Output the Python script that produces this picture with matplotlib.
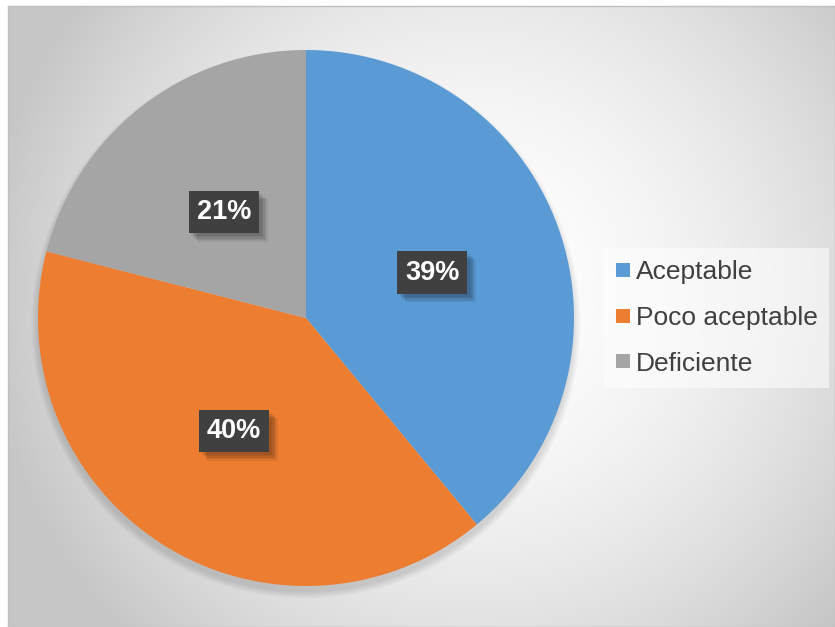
import numpy as np
import matplotlib
matplotlib.use("Agg")
import matplotlib.pyplot as plt
from matplotlib.lines import Line2D
from matplotlib.patches import Circle
import matplotlib.patheffects as pe

categories = ["Aceptable", "Poco aceptable", "Deficiente"]
shares = [39, 40, 21]
colors = ["#5B9BD5", "#ED7D31", "#A5A5A5"]

W, H = 835, 627
plt.rcParams["font.family"] = ["Liberation Sans", "DejaVu Sans"]
fig = plt.figure(figsize=(W / 100, H / 100), dpi=100)
fig.patch.set_facecolor("white")

# chart area with a soft radial grey gradient
x0, y0 = 8, 6
bg = fig.add_axes([x0 / W, 0, (W - x0) / W, (H - y0) / H])
gx, gy = np.meshgrid(np.arange(x0, W), np.arange(y0, H))
d = np.hypot(gx - 470, gy - 290)
v = np.clip(1 - 0.2 * (d / 460) ** 1.8, 0.78, 1)
bg.imshow(np.dstack([v, v, v]), aspect="auto", interpolation="bilinear")
bg.set_xticks([]); bg.set_yticks([])
for s in bg.spines.values():
    s.set_color("#bfbfbf"); s.set_linewidth(1)

# pie, with a faint shadow falling below it
cx, cy, r = 306, 318, 268
ax = fig.add_axes([(cx - r) / W, (H - cy - r) / H, 2 * r / W, 2 * r / H])
ax.set_facecolor("none")
for i in range(8):
    ax.add_patch(Circle((0, -0.022), 1 + 0.0035 * i, color="black", alpha=0.014,
                        lw=0, zorder=0, clip_on=False))
wedges, _, autotexts = ax.pie(
    shares, colors=colors, startangle=90, counterclock=False,
    autopct=lambda p: f"{p:.0f}%", pctdistance=0.5,
    wedgeprops=dict(linewidth=0),
    textprops=dict(color="white", fontsize=19.5, fontweight="bold"))
soft_shadow = [pe.SimplePatchShadow(offset=(k, -k), shadow_rgbFace="black", alpha=0.07)
               for k in (6, 5, 4, 3, 2)]
for t in autotexts:
    t.set_zorder(5)
    t.set_bbox(dict(boxstyle="square,pad=0.3", facecolor="#404040", linewidth=0))
    t.get_bbox_patch().set_path_effects(soft_shadow + [pe.Normal()])
ax.set_xlim(-1, 1); ax.set_ylim(-1, 1)
ax.axis("off")

handles = [Line2D([], [], marker="s", linestyle="none", markersize=9.5,
                  markerfacecolor=c, markeredgewidth=0) for c in colors]
leg = fig.legend(handles, categories, loc="center left",
                 bbox_to_anchor=(604 / W, 1 - 318 / H), fontsize=19,
                 frameon=True, facecolor="white", framealpha=0.55, edgecolor="none",
                 fancybox=False, handlelength=0.55, handletextpad=0.2,
                 labelspacing=0.82, borderpad=0.45, borderaxespad=0)
for t in leg.get_texts():
    t.set_color("#404040")

fig.savefig("out.png", dpi=100)
